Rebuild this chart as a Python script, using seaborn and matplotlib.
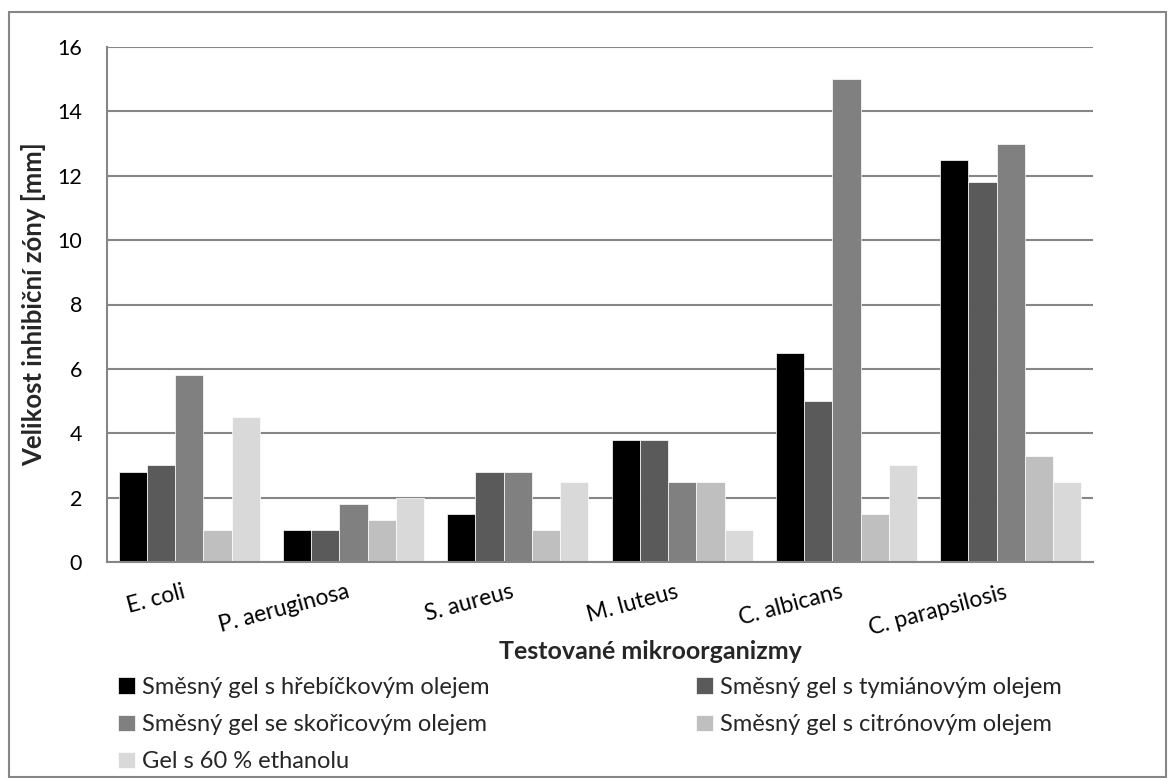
import numpy as np
import pandas as pd
import matplotlib
matplotlib.use('Agg')
import matplotlib.pyplot as plt
import matplotlib.transforms as mtransforms
import seaborn as sns
from matplotlib.patches import Rectangle

# ============================================================================
# DATA
# ============================================================================
organisms = ['E. coli', 'P. aeruginosa', 'S. aureus', 'M. luteus',
             'C. albicans', 'C. parapsilosis']
series = ['Směsný gel s hřebíčkovým olejem',
          'Směsný gel s tymiánovým olejem',
          'Směsný gel se skořicovým olejem',
          'Směsný gel s citrónovým olejem',
          'Gel s 60 % ethanolu']
clove = [2.8, 1.0, 1.5, 3.8, 6.5, 12.5]
thyme = [3.0, 1.0, 2.8, 3.8, 5.0, 11.8]
cinnamon = [5.8, 1.8, 2.8, 2.5, 15.0, 13.0]
lemon = [1.0, 1.3, 1.0, 2.5, 1.5, 3.3]
ethanol = [4.5, 2.0, 2.5, 1.0, 3.0, 2.5]
colors = ['#000000', '#5a5a5a', '#808080', '#bfbfbf', '#d9d9d9']

df = pd.DataFrame({
    'organismus': organisms * 5,
    'gel': np.repeat(series, len(organisms)),
    'zona': clove + thyme + cinnamon + lemon + ethanol,
})

# ============================================================================
# PLOT
# ============================================================================
sns.set_style('white')
plt.rcParams['font.family'] = ['Lato', 'DejaVu Sans']

W, H = 1168, 778
fig = plt.figure(figsize=(W / 100, H / 100), dpi=100)
ax = fig.add_axes([107 / W, 1 - 562 / H, (1093 - 107) / W, (562 - 47) / H])

sns.barplot(data=df, x='organismus', y='zona', hue='gel', hue_order=series,
            palette=colors, width=0.86, saturation=1, edgecolor='white',
            linewidth=0.5, ax=ax, legend=True)

ax.set_ylim(0, 16)
ax.set_yticks(range(0, 17, 2))
ax.set_xlim(-0.5, len(organisms) - 0.5)
ax.yaxis.grid(True, color='#868686', linewidth=1.5)
ax.set_axisbelow(True)
for side in ['top', 'right']:
    ax.spines[side].set_visible(False)
for side in ['left', 'bottom']:
    ax.spines[side].set_color('#868686')
    ax.spines[side].set_linewidth(1.5)
ax.tick_params(axis='both', length=0, colors='black')
ax.tick_params(axis='y', labelsize=15.5, pad=18)
ax.set_xticks(range(len(organisms)))
ax.set_xticklabels(organisms, rotation=15, ha='right', rotation_mode='anchor',
                   fontsize=16.5)
ax.tick_params(axis='x', pad=14)
# shift rotated labels slightly left like the original
shift = mtransforms.ScaledTranslation(-7 / 100, 0, fig.dpi_scale_trans)
for lbl in ax.get_xticklabels():
    lbl.set_transform(lbl.get_transform() + shift)

ax.set_xlabel('Testované mikroorganizmy', fontsize=18, fontweight='bold')
ax.xaxis.set_label_coords((650 - 107) / 986, (562 - 640) / 515)
ax.set_ylabel('Velikost inhibiční zóny [mm]', fontsize=18.5, fontweight='bold')
ax.yaxis.set_label_coords((46 - 107) / 986, 0.5)

handles, labels = ax.get_legend_handles_labels()
ax.get_legend().remove()
leg_kw = dict(loc='upper left', frameon=False, fontsize=17, handlelength=0.7,
              handleheight=0.7, handletextpad=0.3, labelspacing=0.68,
              borderaxespad=0, borderpad=0)
fig.legend([handles[i] for i in [0, 2, 4]], [labels[i] for i in [0, 2, 4]],
           bbox_to_anchor=(118 / W, 1 - 677 / H), **leg_kw)
fig.legend([handles[i] for i in [1, 3]], [labels[i] for i in [1, 3]],
           bbox_to_anchor=(696 / W, 1 - 677 / H), **leg_kw)

# outer chart border
fig.add_artist(Rectangle((9 / W, 1 / H), 1157 / W, 765 / H,
                         transform=fig.transFigure, fill=False,
                         edgecolor='#868686', linewidth=1.5))

plt.savefig('out.png', dpi=100)
plt.close()
